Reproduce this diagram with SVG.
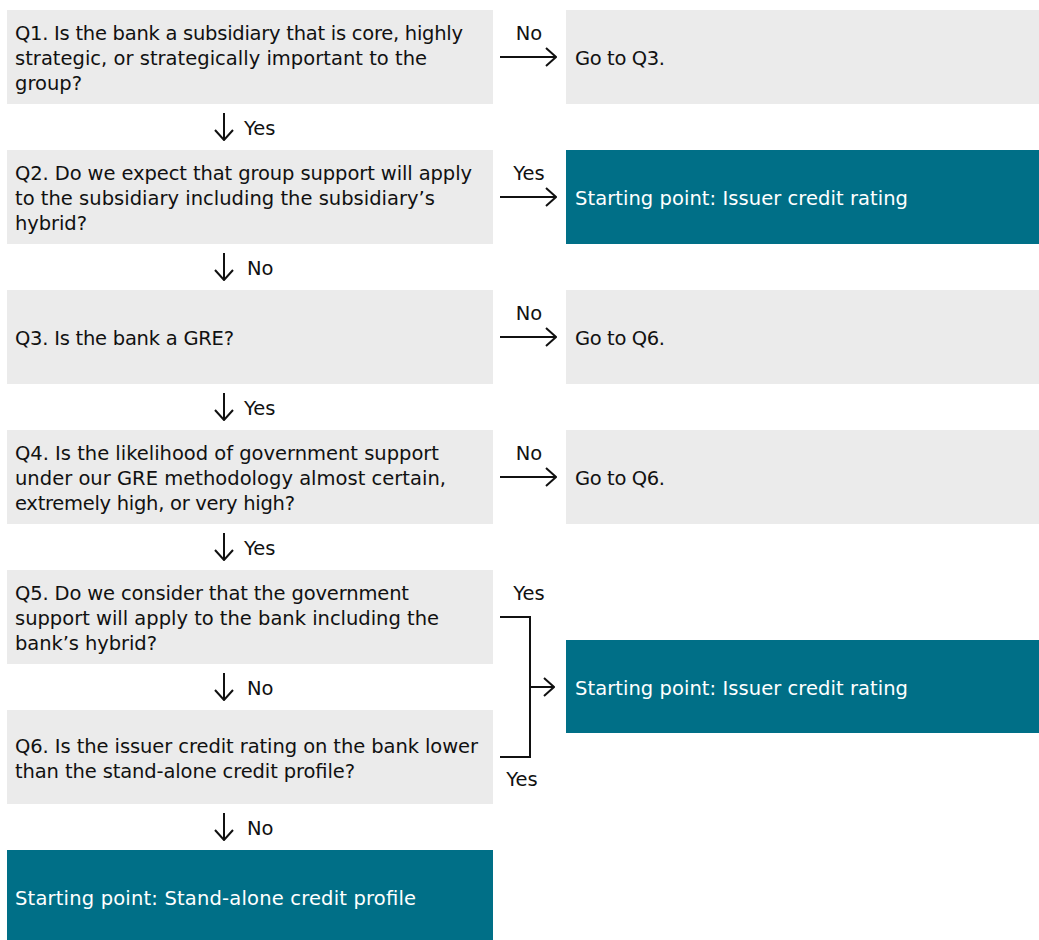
<svg xmlns="http://www.w3.org/2000/svg" width="1039" height="940" viewBox="0 0 1039 940">
<style>
.q{fill:#EBEBEB}
.t{fill:#006F87}
text{font-family:"DejaVu Sans","Liberation Sans",Arial,sans-serif;font-size:19.5px;fill:#111}
.w{fill:#fff}
.c{fill:none;stroke:#111;stroke-width:2}
</style>
<defs>
<marker id="ah" viewBox="0 0 12 20" refX="11" refY="10" markerWidth="12" markerHeight="20" markerUnits="userSpaceOnUse" orient="auto">
<path d="M1,1 L11,10 L1,19" fill="none" stroke="#111" stroke-width="2"/>
</marker>
</defs>
<rect width="1039" height="940" fill="#fff"/>
<g id="q1"><rect class="q" x="7" y="10" width="486" height="94"/>
<text x="15" y="40" textLength="448">Q1. Is the bank a subsidiary that is core, highly</text>
<text x="15" y="65" textLength="412">strategic, or strategically important to the</text>
<text x="15" y="90" textLength="67">group?</text></g>
<g id="goq3"><rect class="q" x="566" y="10" width="473" height="94"/><text x="575" y="65" textLength="90">Go to Q3.</text></g>
<g id="q2"><rect class="q" x="7" y="150" width="486" height="94"/>
<text x="15" y="180" textLength="457">Q2. Do we expect that group support will apply</text>
<text x="15" y="205" textLength="420">to the subsidiary including the subsidiary’s</text>
<text x="15" y="230" textLength="72">hybrid?</text></g>
<g id="icr1"><rect class="t" x="566" y="150" width="473" height="94"/><text class="w" x="575" y="205" textLength="333">Starting point: Issuer credit rating</text></g>
<g id="q3"><rect class="q" x="7" y="290" width="486" height="94"/>
<text x="15" y="345" textLength="219">Q3. Is the bank a GRE?</text></g>
<g id="goq6a"><rect class="q" x="566" y="290" width="473" height="94"/><text x="575" y="345" textLength="90">Go to Q6.</text></g>
<g id="q4"><rect class="q" x="7" y="430" width="486" height="94"/>
<text x="15" y="460" textLength="424">Q4. Is the likelihood of government support</text>
<text x="15" y="485" textLength="431">under our GRE methodology almost certain,</text>
<text x="15" y="510" textLength="280">extremely high, or very high?</text></g>
<g id="goq6b"><rect class="q" x="566" y="430" width="473" height="94"/><text x="575" y="485" textLength="90">Go to Q6.</text></g>
<g id="q5"><rect class="q" x="7" y="570" width="486" height="94"/>
<text x="15" y="600" textLength="394">Q5. Do we consider that the government</text>
<text x="15" y="625" textLength="424">support will apply to the bank including the</text>
<text x="15" y="650" textLength="142">bank’s hybrid?</text></g>
<g id="icr2"><rect class="t" x="566" y="640" width="473" height="93"/><text class="w" x="575" y="695" textLength="333">Starting point: Issuer credit rating</text></g>
<g id="q6"><rect class="q" x="7" y="710" width="486" height="94"/>
<text x="15" y="753" textLength="463">Q6. Is the issuer credit rating on the bank lower</text>
<text x="15" y="778" textLength="340">than the stand-alone credit profile?</text></g>
<g id="sacp"><rect class="t" x="7" y="850" width="486" height="90"/><text class="w" x="15" y="905" textLength="401">Starting point: Stand-alone credit profile</text></g>
<g id="connectors">
<path class="c" d="M500,57 H556" marker-end="url(#ah)"/>
<text x="529" y="40" text-anchor="middle">No</text>
<path class="c" d="M500,197 H556" marker-end="url(#ah)"/>
<text x="529" y="180" text-anchor="middle">Yes</text>
<path class="c" d="M500,337 H556" marker-end="url(#ah)"/>
<text x="529" y="320" text-anchor="middle">No</text>
<path class="c" d="M500,477 H556" marker-end="url(#ah)"/>
<text x="529" y="460" text-anchor="middle">No</text>
<path class="c" d="M500,617 H530 V757 H500"/>
<path class="c" d="M530,687 H554" marker-end="url(#ah)"/>
<text x="529" y="600" text-anchor="middle">Yes</text>
<text x="522" y="786" text-anchor="middle">Yes</text>
<path class="c" d="M224,113 V140" marker-end="url(#ah)"/><text x="244" y="135">Yes</text>
<path class="c" d="M224,253 V280" marker-end="url(#ah)"/><text x="247" y="275">No</text>
<path class="c" d="M224,393 V420" marker-end="url(#ah)"/><text x="244" y="415">Yes</text>
<path class="c" d="M224,533 V560" marker-end="url(#ah)"/><text x="244" y="555">Yes</text>
<path class="c" d="M224,673 V700" marker-end="url(#ah)"/><text x="247" y="695">No</text>
<path class="c" d="M224,813 V840" marker-end="url(#ah)"/><text x="247" y="835">No</text>
</g>
</svg>
